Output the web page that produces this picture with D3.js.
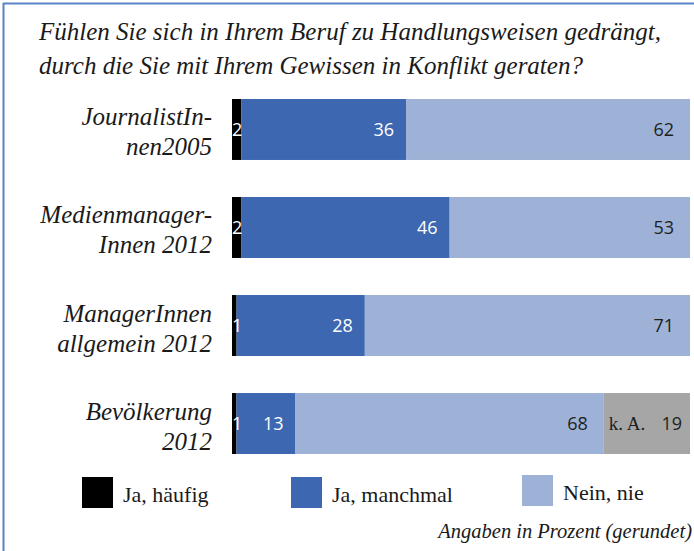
<!DOCTYPE html>
<html>
<head>
<meta charset="utf-8">
<script src="https://cdn.jsdelivr.net/npm/d3@7"></script>
<style>
  body { margin: 0; background: #fff; }
</style>
</head>
<body>
<div id="chart"></div>
<script>
// ==========================
// Data
// ==========================
const categories = ["JournalistIn-|nen2005", "Medienmanager-|Innen 2012", "ManagerInnen|allgemein 2012", "Bevölkerung|2012"];
const haeufig = [2, 2, 1, 1];
const manchmal = [36, 46, 28, 13];
const nie = [62, 53, 71, 68];
const keineAngabe = [0, 0, 0, 19];

const seriesKeys = ["haeufig", "manchmal", "nie", "ka"];
const seriesNames = { haeufig: "Ja, häufig", manchmal: "Ja, manchmal", nie: "Nein, nie", ka: "k. A." };
const colors = { haeufig: "#000000", manchmal: "#3d67b0", nie: "#9db2d6", ka: "#a6a6a6" };
const labelColors = { haeufig: "#ffffff", manchmal: "#ffffff", nie: "#1e1e1e", ka: "#1e1e1e" };
const labelPad = { haeufig: 0, manchmal: 12, nie: 16, ka: 8 };

const title = ["Fühlen Sie sich in Ihrem Beruf zu Handlungsweisen gedrängt,",
               "durch die Sie mit Ihrem Gewissen in Konflikt geraten?"];
const note = "Angaben in Prozent (gerundet)";

// ==========================
// Dimensions
// ==========================
const width = 694;
const height = 551;
const serif = "'Liberation Serif', 'DejaVu Serif', serif";
const sans = "'Open Sans', 'Noto Sans', sans-serif";

const rows = categories.map((c, i) => ({
    cat: c,
    haeufig: haeufig[i],
    manchmal: manchmal[i],
    nie: nie[i],
    ka: keineAngabe[i]
}));

const svg = d3.select("#chart")
    .append("svg")
    .attr("width", width)
    .attr("height", height);

// Frame (left + top)
svg.append("line")
    .attr("x1", 3.5).attr("x2", 3.5).attr("y1", 3).attr("y2", height)
    .attr("stroke", "#5b82c8").attr("stroke-width", 2);
svg.append("line")
    .attr("x1", 3).attr("x2", width).attr("y1", 3.5).attr("y2", 3.5)
    .attr("stroke", "#5b82c8").attr("stroke-width", 2);

// Title
svg.append("g").selectAll("text")
    .data(title)
    .enter()
    .append("text")
    .attr("x", 39)
    .attr("y", (d, i) => 40 + i * 34)
    .attr("font-family", serif)
    .attr("font-style", "italic")
    .attr("font-size", 25)
    .attr("fill", "#1a1a1a")
    .text(d => d);

// ==========================
// Scales & stack
// ==========================
const x = d3.scaleLinear().domain([0, 1]).range([232, 690]);
const y = d3.scaleBand()
    .domain(categories)
    .range([99, 454])
    .paddingInner(0.378)
    .paddingOuter(0);

const stacked = d3.stack()
    .keys(seriesKeys)
    .offset(d3.stackOffsetExpand)(rows);

const layers = svg.append("g").selectAll("g")
    .data(stacked)
    .enter()
    .append("g")
    .attr("fill", d => colors[d.key]);

layers.selectAll("rect")
    .data(d => d.filter(s => s[1] > s[0]))
    .enter()
    .append("rect")
    .attr("x", d => x(d[0]))
    .attr("y", d => y(d.data.cat))
    .attr("width", d => x(d[1]) - x(d[0]))
    .attr("height", y.bandwidth());

// Value labels
stacked.forEach(layer => {
    const key = layer.key;
    layer.forEach(s => {
        const v = s.data[key];
        if (!v) return;
        const cy = y(s.data.cat) + y.bandwidth() / 2 + 6.5;
        const t = svg.append("text")
            .attr("y", cy)
            .attr("font-family", sans)
            .attr("font-size", 18)
            .attr("fill", labelColors[key])
            .text(v);
        if (key === "haeufig") {
            t.attr("x", x(s[0])).attr("text-anchor", "start");
        } else {
            t.attr("x", x(s[1]) - labelPad[key]).attr("text-anchor", "end");
        }
        if (key === "ka") {
            svg.append("text")
                .attr("x", x(s[0]) + 5)
                .attr("y", cy)
                .attr("font-family", serif)
                .attr("font-size", 19)
                .attr("fill", "#1e1e1e")
                .text(seriesNames.ka);
        }
    });
});

// Category labels
categories.forEach(c => {
    const lines = c.split("|");
    const top = y(c) + y.bandwidth() / 2 - 4;
    svg.append("text")
        .attr("text-anchor", "end")
        .attr("font-family", serif)
        .attr("font-style", "italic")
        .attr("font-size", 25)
        .attr("fill", "#1a1a1a")
        .selectAll("tspan")
        .data(lines)
        .enter()
        .append("tspan")
        .attr("x", 212)
        .attr("y", (d, i) => top + i * 30)
        .text(d => d);
});

// ==========================
// Legend
// ==========================
const legendItems = [
    { key: "haeufig", x: 82, y: 477 },
    { key: "manchmal", x: 291, y: 477 },
    { key: "nie", x: 522, y: 475 }
];

const legend = svg.append("g").selectAll("g")
    .data(legendItems)
    .enter()
    .append("g")
    .attr("transform", d => `translate(${d.x}, ${d.y})`);

legend.append("rect")
    .attr("width", 31)
    .attr("height", 31)
    .attr("fill", d => colors[d.key]);

legend.append("text")
    .attr("x", 41)
    .attr("y", 25)
    .attr("font-family", serif)
    .attr("font-size", 22)
    .attr("fill", "#1a1a1a")
    .text(d => seriesNames[d.key]);

// Footnote
svg.append("text")
    .attr("x", 692)
    .attr("y", 538)
    .attr("text-anchor", "end")
    .attr("font-family", serif)
    .attr("font-style", "italic")
    .attr("font-size", 20.5)
    .attr("fill", "#1a1a1a")
    .text(note);
</script>
</body>
</html>
